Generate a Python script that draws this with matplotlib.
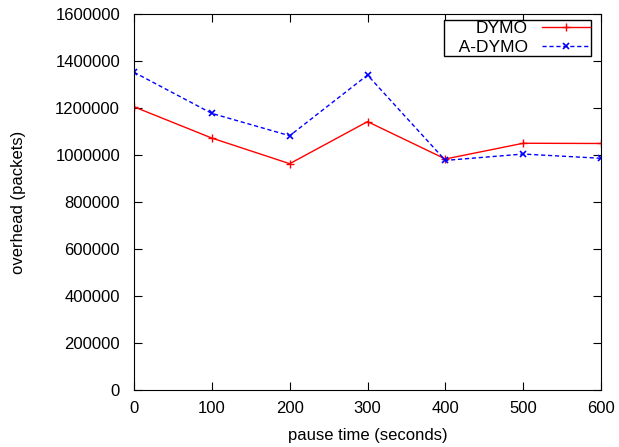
import matplotlib
matplotlib.use('Agg')
import matplotlib.pyplot as plt

pause_time = [0, 100, 200, 300, 400, 500, 600]
dymo = [1205000, 1072000, 963000, 1142000, 983000, 1050000, 1049000]
adymo = [1352000, 1177000, 1082000, 1340000, 977000, 1004000, 986000]

plt.rcParams['font.family'] = ['Liberation Sans', 'DejaVu Sans']
plt.rcParams['font.size'] = 12

fig = plt.figure(figsize=(6.19, 4.47), dpi=100)
ax = fig.add_axes([0.2165, 0.1275, 0.7545, 0.8412])
ax.plot(pause_time, dymo, color='red', lw=1, marker='+', ms=6, mew=1, label='DYMO')
# leading spaces give the left margin inside the legend box
ax.plot(pause_time, adymo, color='blue', lw=1, ls=(0, (3, 2)), marker='x', ms=5, mew=1.2, label='   A-DYMO')
ax.set_xlim(0, 600)
ax.set_ylim(0, 1600000)
ax.set_xticks(pause_time)
ax.set_yticks(range(0, 1600001, 200000))
ax.tick_params(direction='in', top=True, right=True, length=6)
ax.tick_params(axis='x', pad=8)
ax.tick_params(axis='y', pad=10)
ax.ticklabel_format(style='plain', axis='y')
ax.set_xlabel('pause time (seconds)')
ax.set_ylabel('overhead (packets)')
ax.xaxis.set_label_coords(0.5, -0.102)
ax.yaxis.set_label_coords(-0.232, 0.5)
leg = ax.legend(loc='upper right', markerfirst=False, fancybox=False, framealpha=1,
                edgecolor='black', borderpad=0.05, handlelength=2.8, handletextpad=0.8,
                labelspacing=0.2, borderaxespad=0, fontsize=12.5,
                bbox_to_anchor=(0.9786, 0.984))
leg.get_frame().set_linewidth(1)
fig.savefig('out.png', dpi=100)
plt.close(fig)
